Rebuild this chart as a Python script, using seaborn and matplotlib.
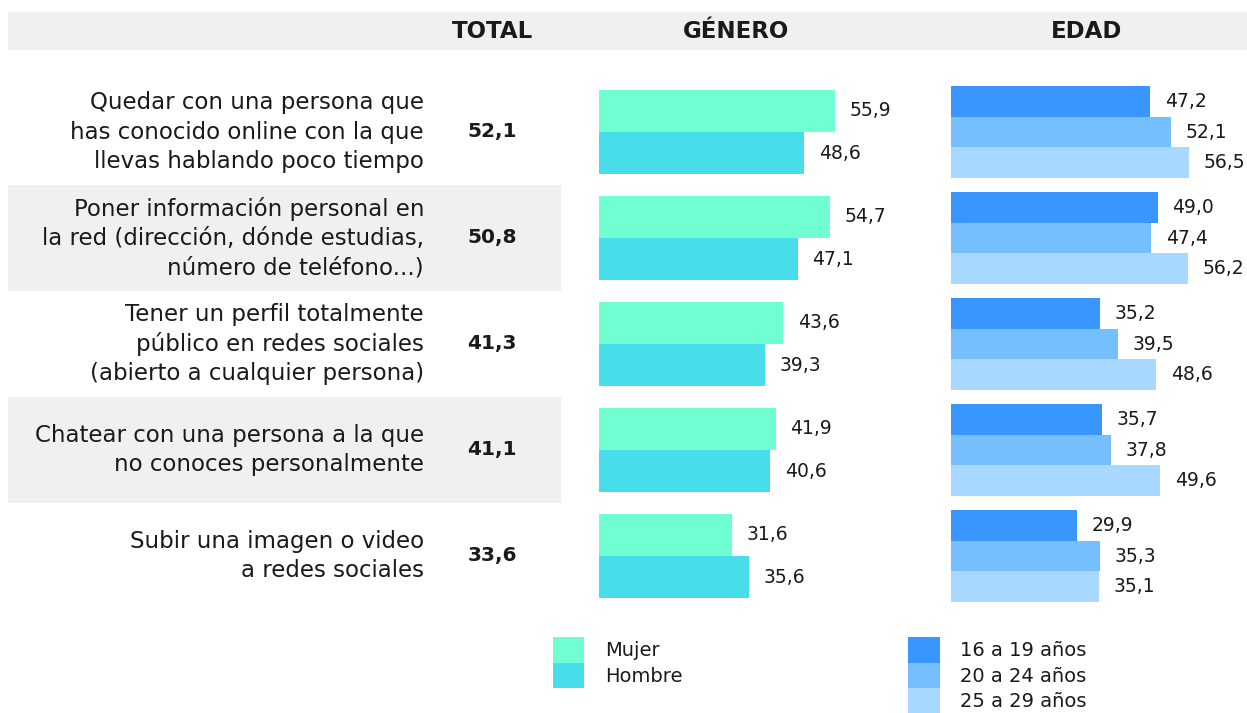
import pandas as pd
import matplotlib
matplotlib.use('Agg')
import matplotlib.pyplot as plt
import matplotlib.transforms as mtransforms
from matplotlib.patches import Rectangle, Patch
import seaborn as sns

# -------------------------------
# Data
# -------------------------------
categories = [
    "Quedar con una persona que\nhas conocido online con la que\nllevas hablando poco tiempo",
    "Poner información personal en\nla red (dirección, dónde estudias,\nnúmero de teléfono...)",
    "Tener un perfil totalmente\npúblico en redes sociales\n(abierto a cualquier persona)",
    "Chatear con una persona a la que\nno conoces personalmente",
    "Subir una imagen o video\na redes sociales",
]
total = [52.1, 50.8, 41.3, 41.1, 33.6]

genero_labels = ["Mujer", "Hombre"]
mujer = [55.9, 54.7, 43.6, 41.9, 31.6]
hombre = [48.6, 47.1, 39.3, 40.6, 35.6]

edad_labels = ["16 a 19 años", "20 a 24 años", "25 a 29 años"]
edad_16_19 = [47.2, 49.0, 35.2, 35.7, 29.9]
edad_20_24 = [52.1, 47.4, 39.5, 37.8, 35.3]
edad_25_29 = [56.5, 56.2, 48.6, 49.6, 35.1]

genero_colors = ["#6FFFD2", "#48DDEA"]
edad_colors = ["#3A96FF", "#75BFFF", "#A8D8FF"]
band_color = "#F0F0F0"

# long tables for seaborn
ids = list(range(len(categories)))
df_gen = pd.DataFrame({
    "cat": ids * 2,
    "grupo": [genero_labels[0]] * 5 + [genero_labels[1]] * 5,
    "valor": mujer + hombre,
})
df_edad = pd.DataFrame({
    "cat": ids * 3,
    "grupo": [edad_labels[0]] * 5 + [edad_labels[1]] * 5 + [edad_labels[2]] * 5,
    "valor": edad_16_19 + edad_20_24 + edad_25_29,
})

def fmt(v):
    return f"{v:.1f}".replace(".", ",")

# -------------------------------
# Figure
# -------------------------------
sns.set_theme(style="white")
plt.rcParams['font.family'] = ['DejaVu Sans']
plt.rcParams['text.color'] = '#1a1a1a'

W, H = 1247, 713
fig = plt.figure(figsize=(W / 100, H / 100), dpi=100)

# background layer in pixel units (bands, headers, labels)
bg = fig.add_axes([0, 0, 1, 1], zorder=0)
bg.set_xlim(0, W)
bg.set_ylim(H, 0)
bg.axis("off")

top_px, bottom_px = 79, 609
def px_axes(left_px, width_px):
    return [left_px / W, 1 - bottom_px / H, width_px / W, (bottom_px - top_px) / H]

xmax = 60
scale = 4.22  # px per unit
ax_g = fig.add_axes(px_axes(599, xmax * scale), zorder=2)
ax_e = fig.add_axes(px_axes(951, xmax * scale), zorder=2)

# Gender bars
sns.barplot(data=df_gen, x="valor", y="cat", hue="grupo", orient="h",
            palette=genero_colors, saturation=1, width=0.8, linewidth=0,
            ax=ax_g, legend=False, order=ids, hue_order=genero_labels)
# Age bars
sns.barplot(data=df_edad, x="valor", y="cat", hue="grupo", orient="h",
            palette=edad_colors, saturation=1, width=0.86, linewidth=0,
            ax=ax_e, legend=False, order=ids, hue_order=edad_labels)

for ax in (ax_g, ax_e):
    ax.set_xlim(0, xmax)
    ax.set_ylim(len(categories) - 0.5, -0.5)
    ax.axis("off")
    for cont in ax.containers:
        ax.bar_label(cont, labels=[fmt(v) for v in cont.datavalues],
                     padding=10.5, fontsize=13.5, color="#1a1a1a", clip_on=False)

# Header band
bg.add_patch(Rectangle((8, 12), W - 8, 38, color=band_color, lw=0))
for x, t in [(492, "TOTAL"), (736, "GÉNERO"), (1087, "EDAD")]:
    bg.text(x, 31, t, ha="center", va="center", fontsize=16.5, fontweight="bold")

# row bands + labels, y in category units of the bar axes
row_tr = mtransforms.blended_transform_factory(bg.transData, ax_g.transData)
for i, (cat, tot) in enumerate(zip(categories, total)):
    if i % 2 == 1:
        bg.add_patch(Rectangle((8, i - 0.5), 553, 1.0, color=band_color, lw=0,
                               transform=row_tr))
    bg.text(424, i, cat, ha="right", va="center", fontsize=16.5,
            linespacing=1.34, transform=row_tr)
    bg.text(492, i, fmt(tot), ha="center", va="center", fontsize=14.5,
            fontweight="bold", transform=row_tr)

# Legends (square blocks stacked without gaps)
fs_leg = 14
hh = (25.5 * 0.72 / fs_leg - 0.245) / 0.65
leg_top = 1 - 637 / H
leg_g = fig.legend(handles=[Patch(color=c, lw=0) for c in genero_colors],
                   labels=genero_labels, loc="upper left",
                   bbox_to_anchor=(553 / W, leg_top), frameon=False,
                   fontsize=fs_leg, borderpad=0, borderaxespad=0,
                   labelspacing=0, handleheight=hh,
                   handlelength=31 * 0.72 / fs_leg,
                   handletextpad=21 * 0.72 / fs_leg)
leg_e = fig.legend(handles=[Patch(color=c, lw=0) for c in edad_colors],
                   labels=edad_labels, loc="upper left",
                   bbox_to_anchor=(908 / W, leg_top), frameon=False,
                   fontsize=fs_leg, borderpad=0, borderaxespad=0,
                   labelspacing=0, handleheight=hh,
                   handlelength=32 * 0.72 / fs_leg,
                   handletextpad=20 * 0.72 / fs_leg)

fig.savefig("out.png", dpi=100)
